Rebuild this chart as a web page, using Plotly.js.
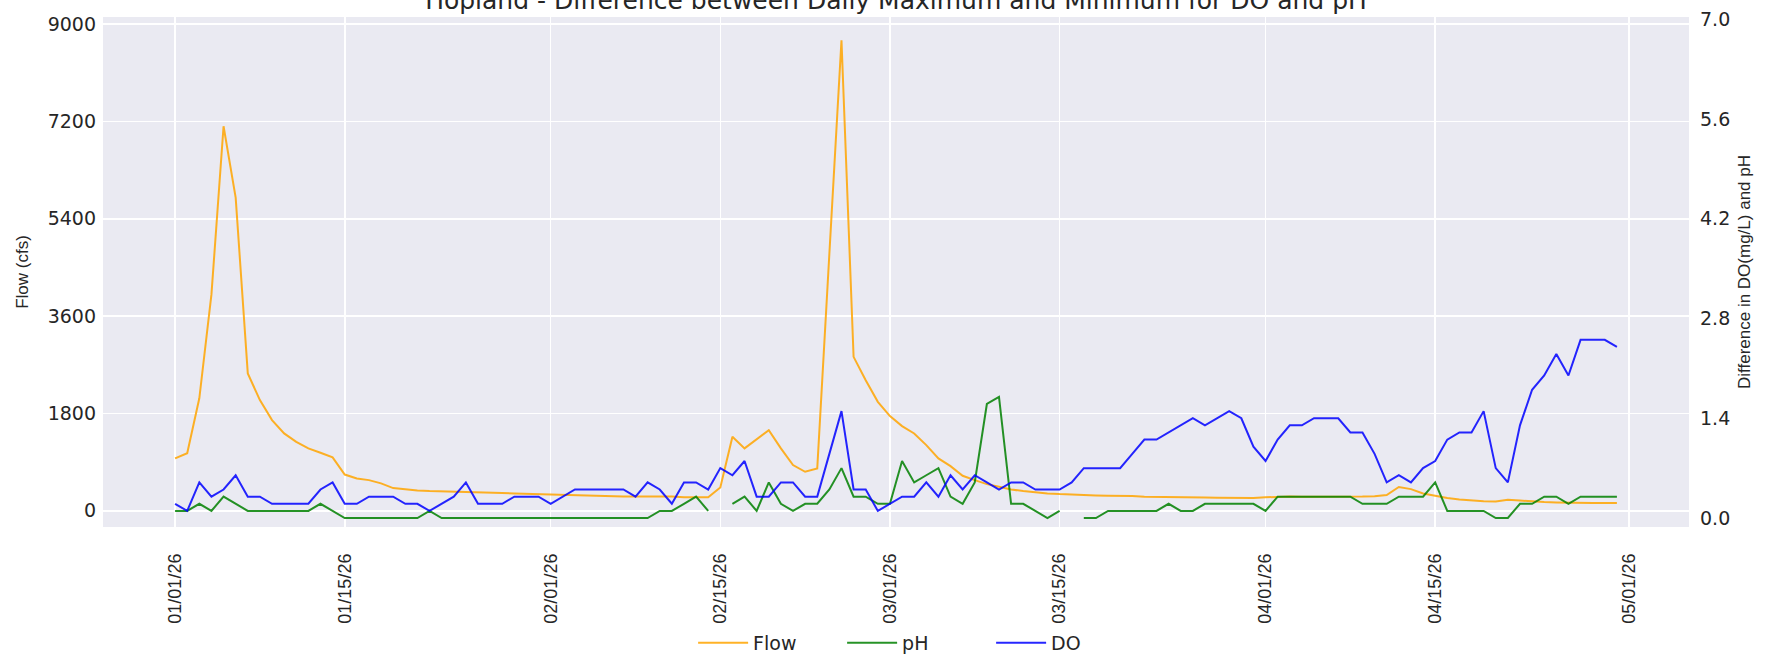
<!DOCTYPE html>
<html>
<head>
<meta charset="utf-8">
<script src="https://cdn.plot.ly/plotly-3.0.1.min.js"></script>
<style>
  html, body { margin: 0; padding: 0; background: #ffffff; }
  #chart { width: 1791px; height: 661px; }
</style>
</head>
<body>
<div id="chart"></div>
<script>
// ---------------- data ----------------
const startDate = '2026-01-01';

const flow = [
  968, 1065, 2080, 4000, 7110, 5790, 2540, 2046, 1676, 1430,
  1275, 1153, 1072, 987, 670, 598, 567, 506, 420, 395,
  377, 364, 360, 351, 345, 340, 333, 330, 321, 314,
  308, 302, 299, 296, 290, 284, 271, 265, 265, 265,
  265, 262, 250, 250, 248, 432, 1368, 1153, 1325, 1491,
  1153, 845, 721, 783, 4750, 8700, 2846, 2415, 2014, 1750,
  1565, 1430, 1214, 968, 826, 647, 567, 493, 444, 395,
  364, 340, 321, 308, 296, 290, 284, 278, 277, 271,
  259, 259, 253, 253, 247, 245, 243, 240, 238, 235,
  250, 262, 262, 260, 258, 258, 256, 255, 262, 270,
  290, 440, 400, 320, 272, 235, 210, 190, 175, 172,
  205, 190, 172, 160, 155, 148, 146, 145, 144, 143
];

const ph = [
  0.1, 0.1, 0.2, 0.1, 0.3, 0.2, 0.1, 0.1, 0.1, 0.1,
  0.1, 0.1, 0.2, 0.1, 0.0, 0.0, 0.0, 0.0, 0.0, 0.0,
  0.0, 0.1, 0.0, 0.0, 0.0, 0.0, 0.0, 0.0, 0.0, 0.0,
  0.0, 0.0, 0.0, 0.0, 0.0, 0.0, 0.0, 0.0, 0.0, 0.0,
  0.1, 0.1, 0.2, 0.3, 0.1, null, 0.2, 0.3, 0.1, 0.5,
  0.2, 0.1, 0.2, 0.2, 0.4, 0.7, 0.3, 0.3, 0.2, 0.2,
  0.8, 0.5, 0.6, 0.7, 0.3, 0.2, 0.5, 1.6, 1.7, 0.2,
  0.2, 0.1, 0.0, 0.1, null, 0.0, 0.0, 0.1, 0.1, 0.1,
  0.1, 0.1, 0.2, 0.1, 0.1, 0.2, 0.2, 0.2, 0.2, 0.2,
  0.1, 0.3, 0.3, 0.3, 0.3, 0.3, 0.3, 0.3, 0.2, 0.2,
  0.2, 0.3, 0.3, 0.3, 0.5, 0.1, 0.1, 0.1, 0.1, 0.0,
  0.0, 0.2, 0.2, 0.3, 0.3, 0.2, 0.3, 0.3, 0.3, 0.3
];

const dissolvedOxygen = [
  0.2, 0.1, 0.5, 0.3, 0.4, 0.6, 0.3, 0.3, 0.2, 0.2,
  0.2, 0.2, 0.4, 0.5, 0.2, 0.2, 0.3, 0.3, 0.3, 0.2,
  0.2, 0.1, 0.2, 0.3, 0.5, 0.2, 0.2, 0.2, 0.3, 0.3,
  0.3, 0.2, 0.3, 0.4, 0.4, 0.4, 0.4, 0.4, 0.3, 0.5,
  0.4, 0.2, 0.5, 0.5, 0.4, 0.7, 0.6, 0.8, 0.3, 0.3,
  0.5, 0.5, 0.3, 0.3, 0.9, 1.5, 0.4, 0.4, 0.1, 0.2,
  0.3, 0.3, 0.5, 0.3, 0.6, 0.4, 0.6, 0.5, 0.4, 0.5,
  0.5, 0.4, 0.4, 0.4, 0.5, 0.7, 0.7, 0.7, 0.7, 0.9,
  1.1, 1.1, 1.2, 1.3, 1.4, 1.3, 1.4, 1.5, 1.4, 1.0,
  0.8, 1.1, 1.3, 1.3, 1.4, 1.4, 1.4, 1.2, 1.2, 0.9,
  0.5, 0.6, 0.5, 0.7, 0.8, 1.1, 1.2, 1.2, 1.5, 0.7,
  0.5, 1.3, 1.8, 2.0, 2.3, 2.0, 2.5, 2.5, 2.5, 2.4
];

const seriesNames = ['Flow', 'pH', 'DO'];
const tickDates = ['2026-01-01', '2026-01-15', '2026-02-01', '2026-02-15', '2026-03-01',
                   '2026-03-15', '2026-04-01', '2026-04-15', '2026-05-01'];
const tickLabels = ['01/01/26', '01/15/26', '02/01/26', '02/15/26', '03/01/26',
                    '03/15/26', '04/01/26', '04/15/26', '05/01/26'];
const leftTicks = [0, 1800, 3600, 5400, 7200, 9000];
const leftTickLabels = ['0', '1800', '3600', '5400', '7200', '9000'];
const rightTicks = [0, 1.4, 2.8, 4.2, 5.6, 7.0];
const rightTickLabels = ['0.0', '1.4', '2.8', '4.2', '5.6', '7.0'];

// one date per daily value
function dailyDates(start, n) {
  const out = [];
  const t0 = Date.parse(start + 'T00:00:00Z');
  for (let i = 0; i < n; i++) {
    out.push(new Date(t0 + i * 86400000).toISOString().slice(0, 10));
  }
  return out;
}
const dates = dailyDates(startDate, flow.length);

// ---------------- chart ----------------
const textColor = '#262626';
const hFont = 'DejaVu Sans, Verdana, sans-serif';
const vFont = 'Liberation Sans, Arial, sans-serif';

const traces = [
  { x: dates, y: flow, name: seriesNames[0], type: 'scatter', mode: 'lines',
    yaxis: 'y', line: { color: '#FFA500', width: 2 }, opacity: 0.85 },
  { x: dates, y: ph, name: seriesNames[1], type: 'scatter', mode: 'lines',
    yaxis: 'y2', connectgaps: false, line: { color: '#008000', width: 2 }, opacity: 0.85 },
  { x: dates, y: dissolvedOxygen, name: seriesNames[2], type: 'scatter', mode: 'lines',
    yaxis: 'y2', line: { color: '#0000FF', width: 2 }, opacity: 0.85 }
];

const layout = {
  width: 1791,
  height: 661,
  margin: { l: 103, r: 102, t: 17, b: 134 },
  paper_bgcolor: '#ffffff',
  plot_bgcolor: '#EAEAF2',
  font: { family: vFont, color: textColor },
  title: {
    text: 'Hopland - Difference between Daily Maximum and Minimum for DO and pH',
    font: { family: hFont, size: 25, color: textColor },
    x: 0.5, xref: 'paper', xanchor: 'center',
    y: 1 - 9 / 661, yref: 'container', yanchor: 'bottom'
  },
  xaxis: {
    type: 'date',
    range: ['2025-12-26 01:12', '2026-05-05 22:48'],
    tickmode: 'array', tickvals: tickDates, ticktext: tickLabels,
    tickangle: -90,
    tickfont: { family: vFont, size: 18, color: textColor },
    ticks: '', showline: false, zeroline: false,
    showgrid: true, gridcolor: '#ffffff', gridwidth: 1.6,
    ticklabelstandoff: 22
  },
  yaxis: {
    range: [-300, 9130],
    tickmode: 'array', tickvals: leftTicks, ticktext: leftTickLabels,
    tickfont: { family: hFont, size: 19, color: textColor },
    ticks: '', showline: false, zeroline: false,
    showgrid: true, gridcolor: '#ffffff', gridwidth: 1.6,
    ticklabelstandoff: 6,
    title: { text: 'Flow (cfs)', font: { family: vFont, size: 17, color: textColor }, standoff: 14 }
  },
  yaxis2: {
    overlaying: 'y', side: 'right',
    range: [-0.126, 7.03],
    tickmode: 'array', tickvals: rightTicks, ticktext: rightTickLabels,
    tickfont: { family: hFont, size: 19, color: textColor },
    ticks: '', showline: false, zeroline: false, showgrid: false,
    ticklabelstandoff: 10,
    title: { text: 'Difference in DO(mg/L) and pH', font: { family: vFont, size: 17, color: textColor }, standoff: 8 }
  },
  showlegend: true,
  legend: {
    orientation: 'h', x: 0.513, xanchor: 'center', xref: 'paper',
    y: 1 - 643 / 661, yanchor: 'middle', yref: 'container',
    itemwidth: 50,
    entrywidth: 84, entrywidthmode: 'pixels',
    font: { family: hFont, size: 19, color: textColor },
    bgcolor: 'rgba(0,0,0,0)'
  }
};

Plotly.newPlot('chart', traces, layout, { displayModeBar: false, staticPlot: true });
</script>
</body>
</html>
